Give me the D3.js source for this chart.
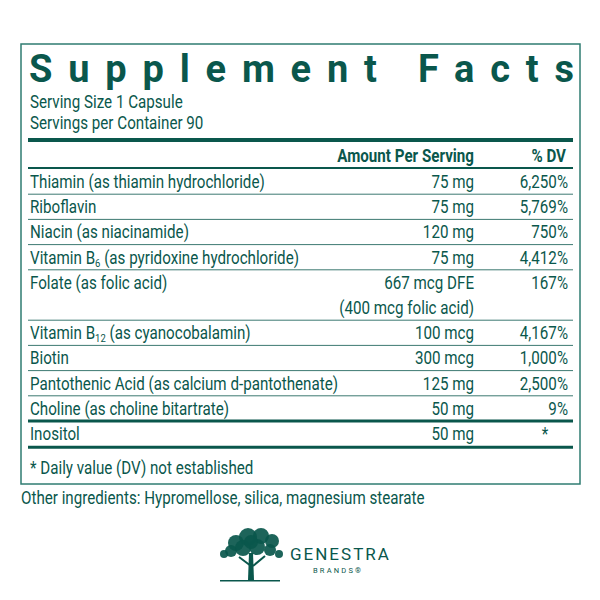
<!DOCTYPE html>
<html><head><meta charset="utf-8">
<script src="https://cdn.jsdelivr.net/npm/d3@7"></script>
<style>body{margin:0;background:#fff}text{font-family:Roboto,sans-serif}</style>
</head><body><svg id="label" width="600" height="600"></svg>
<script>
// DATA
const nutrients = [
  ["Thiamin (as thiamin hydrochloride)"],
  ["Riboflavin"],
  ["Niacin (as niacinamide)"],
  ["Vitamin B", "6", " (as pyridoxine hydrochloride)"],
  ["Folate (as folic acid)"],
  ["Vitamin B", "12", " (as cyanocobalamin)"],
  ["Biotin"],
  ["Pantothenic Acid (as calcium d-pantothenate)"],
  ["Choline (as choline bitartrate)"],
  ["Inositol"]
];
const amounts = [["75 mg"], ["75 mg"], ["120 mg"], ["75 mg"], ["667 mcg DFE", "(400 mcg folic acid)"],
  ["100 mcg"], ["300 mcg"], ["125 mg"], ["50 mg"], ["50 mg"]];
const dvs = ["6,250%", "5,769%", "750%", "4,412%", "167%", "4,167%", "1,000%", "2,500%", "9%", "*"];

const _color = {teal: '#0a574c', line: '#2f7c72'};
const svg = d3.select('#label');
const box = {left: 21, right: 580, top: 44, bottom: 484};
const col = {name: 30, amount: 474, dv: 568};
const SX = 0.82;

// condensed text: horizontally squeezed group
function txt(x, y, s, opt = {}) {
  const g = svg.append('g').attr('transform', `translate(${x},${y}) scale(${SX},1)`);
  const t = g.append('text').attr('font-size', opt.size || 18.5).attr('fill', _color.teal)
             .attr('text-anchor', opt.anchor || 'start').attr('font-weight', opt.weight || 'normal');
  if (Array.isArray(s)) {
    t.append('tspan').text(s[0]);
    t.append('tspan').attr('font-size', 11.5).attr('dy', 3).text(s[1]);
    t.append('tspan').attr('dy', -3).text(s[2]);
  } else t.text(s);
  return t;
}

svg.append('rect').attr('x', box.left).attr('y', box.top)
   .attr('width', box.right - box.left).attr('height', box.bottom - box.top)
   .attr('fill', 'none').attr('stroke', _color.line).attr('stroke-width', 1.5);

svg.append('text').attr('x', 29).attr('y', 82)
   .attr('font-weight', 'bold').attr('font-size', 38)
   .attr('textLength', 545).attr('lengthAdjust', 'spacing').attr('fill', _color.teal)
   .text('Supplement Facts');
txt(col.name, 108, 'Serving Size 1 Capsule');
txt(col.name, 129, 'Servings per Container 90');

function hline(y, w) {
  svg.append('line').attr('x1', 28).attr('x2', 573).attr('y1', y).attr('y2', y)
     .attr('stroke', _color.teal).attr('stroke-width', w);
}
hline(140, 4);
txt(col.amount, 162, 'Amount Per Serving', {anchor: 'end', weight: 'bold'});
txt(566, 162, '% DV', {anchor: 'end', weight: 'bold'});
hline(168, 2);

// row positions: cumulative line counts
const lineStarts = [];
let acc = 0;
amounts.forEach(a => { lineStarts.push(acc); acc += a.length; });
const y = d3.scaleLinear().domain([0, 1]).range([169, 194.2]);

nutrients.forEach((n, i) => {
  const base = y(lineStarts[i]) + 19;
  txt(col.name, base, n.length > 1 ? n : n[0]);
  amounts[i].forEach((a, k) => txt(col.amount, base + k * 25.2, a, {anchor: 'end'}));
  if (dvs[i] === '*') txt(545, base, '*', {anchor: 'middle'});
  else txt(col.dv, base, dvs[i], {anchor: 'end'});
  const bottom = y(lineStarts[i] + amounts[i].length);
  if (i < nutrients.length - 1) hline(bottom, i === nutrients.length - 2 ? 3 : 0.8);
  else hline(bottom + 1, 3);
});

txt(col.name, 474, '* Daily value (DV) not established');
txt(box.left, 504, 'Other ingredients: Hypromellose, silica, magnesium stearate');

// LOGO
const logo = svg.append('g').attr('fill', _color.teal);
const crown = [[236,543,8],[248,537,9],[261,536,8],[272,541,7],[231,551,6],[243,548,8],[257,547,8],[270,550,6],[251,542,7],[224,554,4],[279,554,4]];
crown.forEach(c => logo.append('circle').attr('cx', c[0]).attr('cy', c[1]).attr('r', c[2]).attr('opacity', 0.92));
logo.append('path').attr('d', 'M249,553 L253,553 L254,580 L248,580 Z');
logo.append('path').attr('d', 'M239,557 L251,566 M265,556 L253,566').attr('stroke', _color.teal).attr('stroke-width', 2);
logo.append('rect').attr('x', 220).attr('y', 580).attr('width', 60).attr('height', 1.5);
svg.append('text').attr('x', 290).attr('y', 560)
   .attr('font-size', 17).attr('letter-spacing', 2).attr('fill', _color.teal).text('GENESTRA');
svg.append('text').attr('x', 313).attr('y', 573)
   .attr('font-size', 7.5).attr('letter-spacing', 2.2).attr('fill', _color.teal).text('BRANDS®');
</script></body></html>
